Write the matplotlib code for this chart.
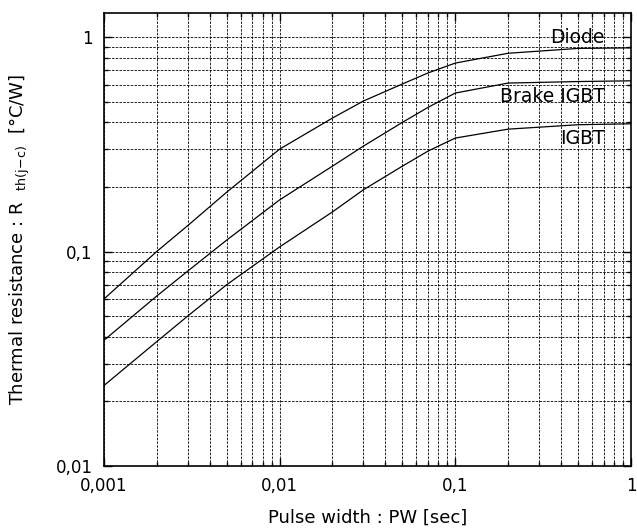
import matplotlib
matplotlib.use("Agg")
import matplotlib.pyplot as plt
from matplotlib.ticker import LogLocator, FixedLocator, NullFormatter

plt.rcParams['font.family'] = ['DejaVu Sans']
plt.rcParams['mathtext.fontset'] = 'custom'
plt.rcParams['mathtext.rm'] = 'DejaVu Sans'

# pulse width [s]
pw = [0.001, 0.002, 0.003, 0.005, 0.01, 0.02, 0.03, 0.05, 0.07, 0.1, 0.2, 0.5, 1.0]
# thermal resistance [°C/W]
diode = [0.060, 0.100, 0.132, 0.189, 0.30, 0.419, 0.503, 0.604, 0.68, 0.756, 0.84, 0.885, 0.89]
brake_igbt = [0.0385, 0.062, 0.081, 0.113, 0.174, 0.25, 0.31, 0.40, 0.47, 0.548, 0.61, 0.62, 0.625]
igbt = [0.0237, 0.038, 0.050, 0.070, 0.105, 0.153, 0.194, 0.25, 0.294, 0.338, 0.372, 0.39, 0.394]

series_names = ["Diode", "Brake IGBT", "IGBT"]
label_y = [1.0, 0.53, 0.338]

x_ticks = [0.001, 0.01, 0.1, 1]
x_ticklabels = ["0,001", "0,01", "0,1", "1"]
y_ticks = [0.01, 0.1, 1]
y_ticklabels = ["0,01", "0,1", "1"]

fig = plt.figure(figsize=(6.37, 5.31), dpi=100)
ax = fig.add_axes([0.163, 0.1224, 0.8276, 0.8531])

for ys in (diode, brake_igbt, igbt):
    ax.plot(pw, ys, color="black", lw=0.9)

ax.set_xscale("log")
ax.set_yscale("log")
ax.set_xlim(0.001, 1)
ax.set_ylim(0.01, 1.294)

ax.xaxis.set_major_locator(FixedLocator(x_ticks))
ax.set_xticklabels(x_ticklabels)
ax.yaxis.set_major_locator(FixedLocator(y_ticks))
ax.set_yticklabels(y_ticklabels)
ax.xaxis.set_minor_locator(LogLocator(base=10, subs=range(2, 10)))
ax.yaxis.set_minor_locator(LogLocator(base=10, subs=range(2, 10)))
ax.xaxis.set_minor_formatter(NullFormatter())
ax.yaxis.set_minor_formatter(NullFormatter())

ax.grid(True, which="both", color="black", ls=(0, (3, 1.5)), lw=0.6)
ax.tick_params(which="both", direction="in", top=True, right=True,
               labelsize=12, width=1)
ax.tick_params(which="major", length=6, pad=8)
ax.tick_params(which="minor", length=3)
for s in ax.spines.values():
    s.set_linewidth(1.2)

for name, yv in zip(series_names, label_y):
    ax.text(0.71, yv, name, ha="right", va="center", fontsize=13.5)

ax.set_xlabel("Pulse width : PW [sec]", fontsize=13)
ax.xaxis.set_label_coords(0.5, -0.095)
ax.set_ylabel(r"Thermal resistance : R  $_{\rm th(j\!-\!c)}$  [°C/W]",
              fontsize=13)
ax.yaxis.set_label_coords(-0.137, 0.5)

fig.savefig("out.png", dpi=100)
